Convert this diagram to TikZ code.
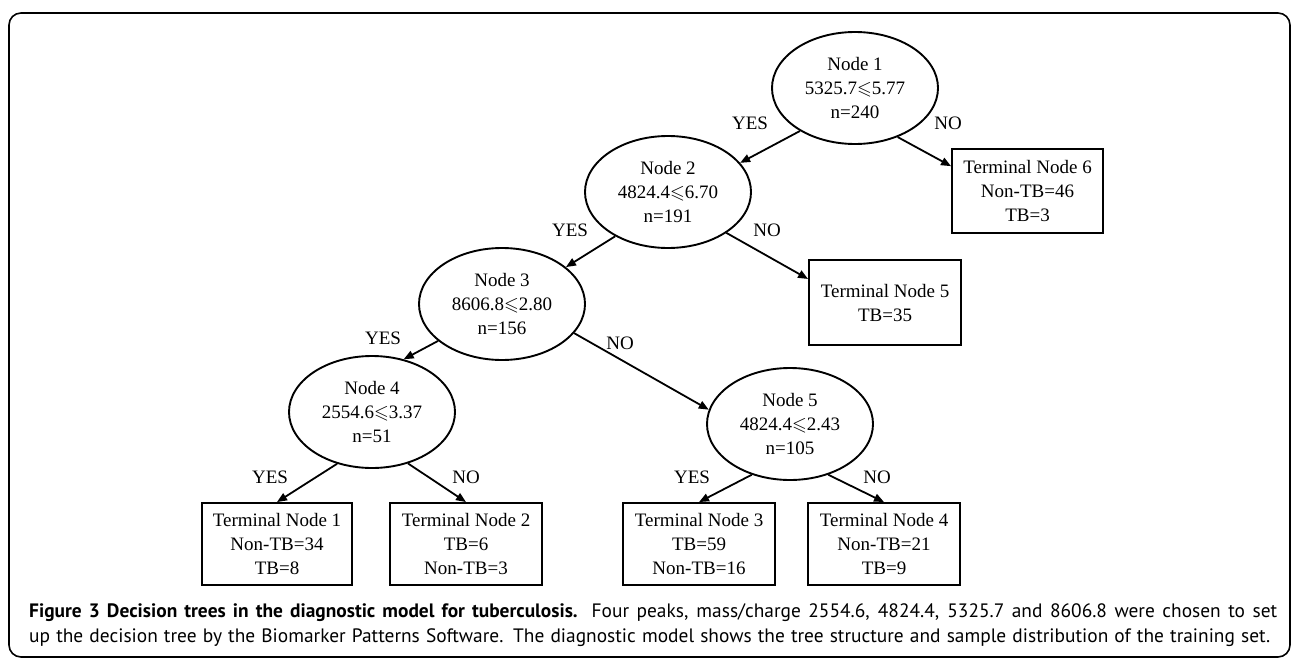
\documentclass[tikz,border=0pt]{standalone}
\usepackage{fontspec}
\setmainfont{Liberation Serif}
\newfontfamily\capfont{PT Sans}
\usepackage{amssymb}
\usetikzlibrary{arrows.meta,shapes.geometric}
\newcommand{\treefont}{\fontsize{19}{24}\selectfont}
\newcommand{\leqs}{$\leqslant$}

\begin{document}
\begin{tikzpicture}[x=1pt, y=-1pt,
  split/.style={draw, ellipse, line width=1.9pt, minimum width=166pt,
                minimum height=112pt, inner sep=0pt, align=center, font=\treefont},
  leaf/.style={draw, line width=1.9pt, minimum width=152pt, minimum height=82pt,
               inner sep=0pt, align=center, font=\treefont},
  edge/.style={line width=1.8pt, -{Triangle[length=10pt,width=8pt]}},
  lbl/.style={font=\treefont},
  capline/.style={anchor=base west, inner sep=0pt, font=\capfont\fontsize{19.4}{25}\selectfont}
]
  \useasboundingbox (0,0) rectangle (1292,661);
  \draw[line width=1.6pt, rounded corners=12pt] (9,13) rectangle (1290,657);

  % split nodes
  \node[split] (n1) at (855, 88)  {Node 1\\5325.7\leqs5.77\\n=240};
  \node[split] (n2) at (668, 192) {Node 2\\4824.4\leqs6.70\\n=191};
  \node[split] (n3) at (502, 304) {Node 3\\8606.8\leqs2.80\\n=156};
  \node[split] (n4) at (372, 412) {Node 4\\2554.6\leqs3.37\\n=51};
  \node[split] (n5) at (790, 424) {Node 5\\4824.4\leqs2.43\\n=105};

  % terminal nodes
  \node[leaf, minimum width=151pt, minimum height=84pt] (t6) at (1027.5, 191)
    {Terminal Node 6\\Non-TB=46\\TB=3};
  \node[leaf, minimum height=85pt] (t5) at (885, 302.5) {Terminal Node 5\\TB=35};
  \node[leaf, minimum width=150pt] (t1) at (277, 544) {Terminal Node 1\\Non-TB=34\\TB=8};
  \node[leaf] (t2) at (466, 544) {Terminal Node 2\\TB=6\\Non-TB=3};
  \node[leaf] (t3) at (699, 544) {Terminal Node 3\\TB=59\\Non-TB=16};
  \node[leaf] (t4) at (884, 544) {Terminal Node 4\\Non-TB=21\\TB=9};

  \draw[edge] (n1.218) -- (n2.22);
  \draw[edge] (n1.311) -- (t6.162);
  \draw[edge] (n2.220) -- (n3.30);
  \draw[edge] (n2.325) -- (t5.163);
  \draw[edge] (n3.210) -- (n4.59);
  \draw[edge] (n3.338) -- (n5.170);
  \draw[edge] (n4.236) -- (t1.north);
  \draw[edge] (n4.305) -- (t2.north);
  \draw[edge] (n5.233) -- (t3.north);
  \draw[edge] (n5.307) -- (t4.north);

  \node[lbl] (y1) at (750, 123) {YES};
  \node[lbl] (o1) at (948, 123) {NO};
  \node[lbl] (y2) at (570, 230) {YES};
  \node[lbl] (o2) at (767, 230) {NO};
  \node[lbl] (y3) at (383, 338) {YES};
  \node[lbl] (o3) at (620, 343) {NO};
  \node[lbl] (y4) at (270, 477) {YES};
  \node[lbl] (o4) at (466, 477) {NO};
  \node[lbl] (y5) at (692, 477) {YES};
  \node[lbl] (o5) at (877, 477) {NO};

  % caption
  \node[capline] (cap1) at (29, 617)
    {\makebox[1248pt][s]{\textbf{Figure 3 Decision trees in the diagnostic model for tuberculosis.} Four peaks, mass/charge 2554.6, 4824.4, 5325.7 and 8606.8 were chosen to set}};
  \node[capline] (cap2) at (29, 642)
    {\makebox[1241pt][s]{up the decision tree by the Biomarker Patterns Software. The diagnostic model shows the tree structure and sample distribution of the training set.}};
\end{tikzpicture}
\end{document}
